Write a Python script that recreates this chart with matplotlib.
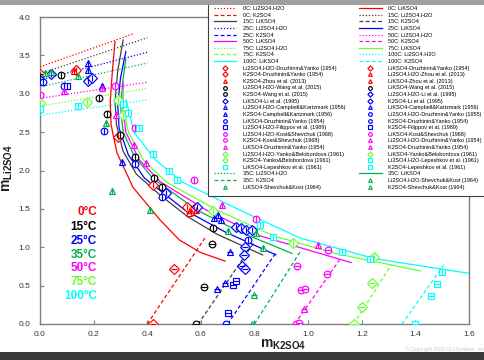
import numpy as np
import matplotlib
matplotlib.use('Agg')
import matplotlib.pyplot as plt
from matplotlib.patches import Rectangle

plt.rcParams['font.family'] = ['Liberation Sans', 'DejaVu Sans']
plt.rcParams['mathtext.fontset'] = 'custom'
plt.rcParams['mathtext.bf'] = 'Liberation Sans:bold'
plt.rcParams['mathtext.rm'] = 'Liberation Sans'

# ---------------- model curves ----------------
# Li2SO4.H2O saturation (dotted)
c0_h2o_x = [0.0, 0.347];  c0_h2o_y = [3.35, 3.78]
c15_h2o_x = [0.0, 0.40];  c15_h2o_y = [3.26, 3.73]
c25_h2o_x = [0.0, 0.40];  c25_h2o_y = [3.18, 3.54]
c35_h2o_x = [0.0, 0.40];  c35_h2o_y = [3.09, 3.40]
c50_h2o_x = [0.0, 0.40];  c50_h2o_y = [2.94, 3.15]
c75_h2o_x = [0.0, 0.40];  c75_h2o_y = [2.84, 3.07]
c100_h2o_x = [0.0, 0.40]; c100_h2o_y = [2.72, 2.92]

# LiKSO4 saturation (solid)
c0_lik_x = [0.28, 0.27, 0.262, 0.265, 0.287, 0.347, 0.448, 0.52, 0.60, 0.69]
c0_lik_y = [3.68, 3.30, 2.90, 2.60, 2.23, 1.78, 1.355, 1.094, 0.93, 0.82]
c15_lik_x = [0.31, 0.29, 0.28, 0.285, 0.31, 0.36, 0.448, 0.55, 0.66, 0.83]
c15_lik_y = [3.70, 3.30, 2.90, 2.60, 2.25, 1.95, 1.68, 1.40, 1.17, 0.90]
c25_lik_x = [0.32, 0.30, 0.29, 0.295, 0.33, 0.39, 0.54, 0.69, 0.88]
c25_lik_y = [3.55, 3.20, 2.85, 2.55, 2.20, 1.90, 1.485, 1.20, 0.90]
c35_lik_x = [0.32, 0.31, 0.30, 0.31, 0.35, 0.42, 0.585, 0.745, 0.94]
c35_lik_y = [3.45, 3.20, 2.85, 2.50, 2.20, 1.90, 1.485, 1.20, 0.92]
c50_lik_x = [0.31, 0.31, 0.32, 0.37, 0.45, 0.62, 0.81, 1.16]
c50_lik_y = [3.15, 2.80, 2.50, 2.14, 1.85, 1.485, 1.16, 0.80]
c75_lik_x = [0.31, 0.31, 0.33, 0.385, 0.47, 0.66, 0.87, 1.10, 1.42]
c75_lik_y = [3.05, 2.80, 2.50, 2.14, 1.85, 1.485, 1.15, 0.92, 0.69]
c100_lik_x = [0.32, 0.33, 0.35, 0.43, 0.53, 0.745, 0.97, 1.25, 1.60]
c100_lik_y = [2.92, 2.80, 2.50, 2.14, 1.85, 1.485, 1.12, 0.85, 0.66]

# K2SO4 saturation (dashed)
c0_k_x = [0.40, 0.615];  c0_k_y = [0.0, 1.12]
c15_k_x = [0.59, 0.80];  c15_k_y = [0.0, 1.07]
c25_k_x = [0.70, 0.88];  c25_k_y = [0.0, 0.93]
c35_k_x = [0.80, 0.97];  c35_k_y = [0.0, 0.94]
c50_k_x = [0.95, 1.12];  c50_k_y = [0.0, 0.85]
c75_k_x = [1.17, 1.31];  c75_k_y = [0.0, 0.77]
c100_k_x = [1.35, 1.51]; c100_k_y = [0.0, 0.79]

# ---------------- experimental data ----------------
p0_h2o_druz_x = [0.0, 0.135];  p0_h2o_druz_y = [3.26, 3.31]
p0_h2o_zhou_x = [0.125];       p0_h2o_zhou_y = [3.30]
p0_lik_druz_x = [0.29, 0.42, 0.55, 0.575]; p0_lik_druz_y = [2.44, 1.81, 1.52, 1.50]
p0_lik_zhou_x = [0.565, 0.58]; p0_lik_zhou_y = [1.46, 1.48]
p0_k_druz_x = [0.42, 0.50];    p0_k_druz_y = [0.0, 0.72]
p0_k_zhou_x = [0.555];         p0_k_zhou_y = [1.45]

p15_h2o_wang_x = [0.0, 0.08];  p15_h2o_wang_y = [3.22, 3.24]
p15_lik_wang_x = [0.22, 0.25, 0.30, 0.355, 0.425, 0.455, 0.645]
p15_lik_wang_y = [2.94, 2.74, 2.46, 2.18, 1.90, 1.79, 1.25]
p15_k_wang_x = [0.64, 0.61, 0.58]; p15_k_wang_y = [1.04, 0.48, 0.0]

p25_h2o_li_x = [0.0, 0.04];    p25_h2o_li_y = [3.18, 3.26]
p25_h2o_camp_x = [0.18, 0.18, 0.23]; p25_h2o_camp_y = [3.40, 3.31, 3.10]
p25_h2o_druz_x = [0.01, 0.09]; p25_h2o_druz_y = [3.15, 3.10]
p25_h2o_fil_x = [0.10];        p25_h2o_fil_y = [3.10]
p25_lik_li_x = [0.18, 0.195, 0.47, 0.585, 0.73, 0.75, 0.77, 0.79]
p25_lik_li_y = [3.17, 3.20, 1.71, 1.52, 1.27, 1.25, 1.23, 1.22]
p25_lik_camp_x = [0.305, 0.65, 0.665, 0.675]; p25_lik_camp_y = [2.11, 1.38, 1.42, 1.36]
p25_lik_druz_x = [0.24, 0.355, 0.455, 0.775]; p25_lik_druz_y = [2.51, 2.09, 1.66, 1.09]
p25_k_li_x = [0.765, 0.76, 0.755, 0.765];     p25_k_li_y = [1.00, 0.90, 0.75, 0.72]
p25_k_camp_x = [0.71, 0.69, 0.66];            p25_k_camp_y = [0.94, 0.53, 0.46]
p25_k_druz_x = [0.695];                       p25_k_druz_y = [0.0]
p25_k_fil_x = [0.72, 0.73, 0.70];             p25_k_fil_y = [0.51, 0.56, 0.14]

p35_h2o_x = [0.02, 0.04, 0.14];  p35_h2o_y = [3.27, 3.28, 3.23]
p35_lik_x = [0.245, 0.27, 0.41, 0.70, 0.805, 0.83]
p35_lik_y = [2.62, 1.73, 1.49, 1.21, 1.18, 0.99]
p35_k_x = [0.80, 0.79];          p35_k_y = [0.38, 0.0]

p50_h2o_kost_x = [0.0, 0.28];    p50_h2o_kost_y = [2.98, 3.10]
p50_h2o_druz_x = [0.09, 0.23];   p50_h2o_druz_y = [3.03, 3.08]
p50_lik_kost_x = [0.355, 0.575, 0.805]; p50_lik_kost_y = [2.55, 1.88, 1.37]
p50_lik_druz_x = [0.285, 0.35, 0.395, 0.68, 1.035]
p50_lik_druz_y = [2.72, 2.33, 2.10, 1.55, 1.03]
p50_k_kost_x = [1.075, 0.96, 1.07, 0.975, 0.99, 0.955, 0.965]
p50_k_kost_y = [0.96, 0.75, 0.65, 0.44, 0.45, 0.0, 0.01]
p50_k_druz_x = [0.985];          p50_k_druz_y = [0.20]

p75_h2o_x = [0.0, 0.175];        p75_h2o_y = [2.88, 2.89]
p75_lik_x = [0.29, 0.31, 0.645, 0.945, 1.245]; p75_lik_y = [2.92, 2.72, 1.47, 1.06, 0.87]
p75_k_x = [1.24, 1.20, 1.17];    p75_k_y = [0.53, 0.22, 0.0]

p100_h2o_x = [0.0, 0.14, 0.31];  p100_h2o_y = [2.80, 2.84, 2.87]
p100_lik_x = [0.33, 0.37, 0.42, 0.48, 0.51, 0.82, 0.87, 1.125, 1.23, 1.50]
p100_lik_y = [2.75, 2.56, 2.22, 1.99, 1.88, 1.29, 1.13, 0.94, 0.85, 0.68]
p100_k_x = [1.48, 1.46, 1.40];   p100_k_y = [0.52, 0.37, 0.0]

temp_labels = ['0\u00b0C', '15\u00b0C', '25\u00b0C', '35\u00b0C', '50\u00b0C', '75\u00b0C', '100\u00b0C']
x_ticks = [0.0, 0.2, 0.4, 0.6, 0.8, 1.0, 1.2, 1.4, 1.6]
y_ticks = [0.0, 0.5, 1.0, 1.5, 2.0, 2.5, 3.0, 3.5, 4.0]

# colors
C0, C15, C25, C35, C50, C75, C100 = '#ff0000', '#000000', '#0000ff', '#00b050', '#ff00ff', '#66ff33', '#00ffff'
L15 = '#404040'
txt_colors = [C0, C15, C25, C35, C50, C75, C100]

W, H = 485, 360
fig = plt.figure(figsize=(W / 100, H / 100), dpi=100)
ax = fig.add_axes([40 / W, 1 - 324 / H, (469 - 40) / W, (324 - 17) / H])
ax.set_xlim(0, 1.6)
ax.set_ylim(0, 4.0)

DOT = (0, (1, 1.5))
DASH = (0, (3, 2))


def curve(x, y, color, ls, label):
    h, = ax.plot(x, y, color=color, ls=ls, lw=0.9, label=label, zorder=3)
    return h


def pts(x, y, color, marker, label, bar='|'):
    h, = ax.plot(x, y, ls='none', marker=marker, ms=4.8, mfc='white', mec=color,
                 mew=0.85, color=color, label=label, zorder=4)
    ax.plot(x, y, ls='none', marker=bar, ms=3.8, mec=color, mew=0.85, zorder=5)
    return h


H_ = {}
H_['l0h'] = curve(c0_h2o_x, c0_h2o_y, C0, DOT, '0C: Li2SO4.H2O')
H_['l0l'] = curve(c0_lik_x, c0_lik_y, C0, '-', '0C: LiKSO4')
H_['l0k'] = curve(c0_k_x, c0_k_y, C0, DASH, '0C: K2SO4')
H_['l15h'] = curve(c15_h2o_x, c15_h2o_y, L15, DOT, '15C: Li2SO4.H2O')
H_['l15l'] = curve(c15_lik_x, c15_lik_y, L15, '-', '15C: LiKSO4')
H_['l15k'] = curve(c15_k_x, c15_k_y, L15, DASH, '15C: K2SO4')
H_['l25h'] = curve(c25_h2o_x, c25_h2o_y, C25, DOT, '25C: Li2SO4.H2O')
H_['l25l'] = curve(c25_lik_x, c25_lik_y, C25, '-', '25C: LiKSO4')
H_['l25k'] = curve(c25_k_x, c25_k_y, C25, DASH, '25C: K2SO4')
H_['l35h'] = curve(c35_h2o_x, c35_h2o_y, C35, DOT, '35C: Li2SO4.H2O')
H_['l35l'] = curve(c35_lik_x, c35_lik_y, C35, '-', '35C: LiKSO4')
H_['l35k'] = curve(c35_k_x, c35_k_y, C35, DASH, '35C: K2SO4')
H_['l50h'] = curve(c50_h2o_x, c50_h2o_y, C50, DOT, '50C: Li2SO4.H2O')
H_['l50l'] = curve(c50_lik_x, c50_lik_y, C50, '-', '50C: LiKSO4')
H_['l50k'] = curve(c50_k_x, c50_k_y, C50, DASH, '50C: K2SO4')
H_['l75h'] = curve(c75_h2o_x, c75_h2o_y, C75, DOT, '75C: Li2SO4.H2O')
H_['l75l'] = curve(c75_lik_x, c75_lik_y, C75, '-', '75C: LiKSO4')
H_['l75k'] = curve(c75_k_x, c75_k_y, C75, DASH, '75C: K2SO4')
H_['l100h'] = curve(c100_h2o_x, c100_h2o_y, C100, DOT, '100C: Li2SO4.H2O')
H_['l100l'] = curve(c100_lik_x, c100_lik_y, C100, '-', '100C: LiKSO4')
H_['l100k'] = curve(c100_k_x, c100_k_y, C100, DASH, '100C: K2SO4')

H_['p0hd'] = pts(p0_h2o_druz_x, p0_h2o_druz_y, C0, 'D', 'Li2SO4.H2O-Druzhinin&Yanko (1954)')
H_['p0hz'] = pts(p0_h2o_zhou_x, p0_h2o_zhou_y, C0, '^', 'Li2SO4.H2O-Zhou et al. (2013)')
H_['p0ld'] = pts(p0_lik_druz_x, p0_lik_druz_y, C0, 'D', 'LiKSO4-Druzhinin&Yanko (1954)')
H_['p0lz'] = pts(p0_lik_zhou_x, p0_lik_zhou_y, C0, '^', 'LiKSO4-Zhou et al. (2013)')
H_['p0kd'] = pts(p0_k_druz_x, p0_k_druz_y, C0, 'D', 'K2SO4-Druzhinin&Yanko (1954)', '_')
H_['p0kz'] = pts(p0_k_zhou_x, p0_k_zhou_y, C0, '^', 'K2SO4-Zhou et al. (2013)', '_')

H_['p15h'] = pts(p15_h2o_wang_x, p15_h2o_wang_y, C15, 'o', 'Li2SO4.H2O-Wang et al. (2015)')
H_['p15l'] = pts(p15_lik_wang_x, p15_lik_wang_y, C15, 'o', 'LiKSO4-Wang et al. (2015)')
H_['p15k'] = pts(p15_k_wang_x, p15_k_wang_y, C15, 'o', 'K2SO4-Wang et al. (2015)', '_')

H_['p25hl'] = pts(p25_h2o_li_x, p25_h2o_li_y, C25, 'D', 'Li2SO4.H2O-Li et al. (1995)')
H_['p25hc'] = pts(p25_h2o_camp_x, p25_h2o_camp_y, C25, '^', 'Li2SO4.H2O-Campbell&Kartzmark (1956)')
H_['p25hd'] = pts(p25_h2o_druz_x, p25_h2o_druz_y, C25, 'o', 'Li2SO4.H2O-Druzhinin&Yanko (1955)')
H_['p25hf'] = pts(p25_h2o_fil_x, p25_h2o_fil_y, C25, 's', 'Li2SO4.H2O-Filippov et al. (1989)')
H_['p25ll'] = pts(p25_lik_li_x, p25_lik_li_y, C25, 'D', 'LiKSO4-Li et al. (1995)')
H_['p25lc'] = pts(p25_lik_camp_x, p25_lik_camp_y, C25, '^', 'LiKSO4-Campbell&Kartzmark (1956)')
H_['p25ld'] = pts(p25_lik_druz_x, p25_lik_druz_y, C25, 'o', 'LiKSO4-Druzhinin&Yanko (1954)')
H_['p25kl'] = pts(p25_k_li_x, p25_k_li_y, C25, 'D', 'K2SO4-Li et al. (1995)', '_')
H_['p25kc'] = pts(p25_k_camp_x, p25_k_camp_y, C25, '^', 'K2SO4-Campbell&Kartzmark (1956)', '_')
H_['p25kd'] = pts(p25_k_druz_x, p25_k_druz_y, C25, 'o', 'K2SO4-Druzhinin&Yanko (1954)', '_')
H_['p25kf'] = pts(p25_k_fil_x, p25_k_fil_y, C25, 's', 'K2SO4-Filippov et al. (1989)', '_')

H_['p35h'] = pts(p35_h2o_x, p35_h2o_y, C35, '^', 'Li2SO4.H2O-Shevchuk&Kost (1964)')
H_['p35l'] = pts(p35_lik_x, p35_lik_y, C35, '^', 'LiKSO4-Shevchuk&Kost (1964)')
H_['p35k'] = pts(p35_k_x, p35_k_y, C35, '^', 'K2SO4-Shevchuk&Kost (1964)', '_')

H_['p50hk'] = pts(p50_h2o_kost_x, p50_h2o_kost_y, C50, 'o', 'Li2SO4.H2O-Kost&Shevchuk (1968)')
H_['p50hd'] = pts(p50_h2o_druz_x, p50_h2o_druz_y, C50, '^', 'Li2SO4.H2O-Druzhinin&Yanko (1954)')
H_['p50lk'] = pts(p50_lik_kost_x, p50_lik_kost_y, C50, 'o', 'LiKSO4-Kost&Shevchuk (1968)')
H_['p50ld'] = pts(p50_lik_druz_x, p50_lik_druz_y, C50, '^', 'LiKSO4-Druzhinin&Yanko (1954)')
H_['p50kk'] = pts(p50_k_kost_x, p50_k_kost_y, C50, 'o', 'K2SO4-Kost&Shevchuk (1968)', '_')
H_['p50kd'] = pts(p50_k_druz_x, p50_k_druz_y, C50, '^', 'K2SO4-Druzhinin&Yanko (1954)', '_')

H_['p75h'] = pts(p75_h2o_x, p75_h2o_y, C75, 'D', 'Li2SO4.H2O-Yanko&Belobordova (1961)')
H_['p75l'] = pts(p75_lik_x, p75_lik_y, C75, 'D', 'LiKSO4-Yanko&Belobordova (1961)')
H_['p75k'] = pts(p75_k_x, p75_k_y, C75, 'D', 'K2SO4-Yanko&Belobordova (1961)', '_')

H_['p100h'] = pts(p100_h2o_x, p100_h2o_y, C100, 's', 'Li2SO4.H2O-Lepeshkov et al. (1961)')
H_['p100l'] = pts(p100_lik_x, p100_lik_y, C100, 's', 'LiKSO4-Lepeshkov et al. (1961)')
H_['p100k'] = pts(p100_k_x, p100_k_y, C100, 's', 'K2SO4-Lepeshkov et al. (1961)', '_')

col1 = ['l0h', 'l0k', 'l15l', 'l25h', 'l25k', 'l50l', 'l75h', 'l75k', 'l100l',
        'p0hd', 'p0kd', 'p0kz', 'p15h', 'p15k', 'p25ll', 'p25hc', 'p25kc', 'p25ld',
        'p25hf', 'p50hk', 'p50kk', 'p50ld', 'p75h', 'p75k', 'p100l', 'l35h', 'l35k', 'p35l']
col2 = ['l0l', 'l15h', 'l15k', 'l25l', 'l50h', 'l50k', 'l75l', 'l100h', 'l100k',
        'p0ld', 'p0hz', 'p0lz', 'p15l', 'p25hl', 'p25kl', 'p25lc', 'p25hd', 'p25kd',
        'p25kf', 'p50lk', 'p50hd', 'p50kd', 'p75l', 'p100h', 'p100k', 'l35l', 'p35h', 'p35k']
handles = [H_[k] for k in col1 + col2]
leg = fig.legend(handles=handles, labels=[h.get_label() for h in handles], ncol=2,
                 loc='upper left', bbox_to_anchor=(208 / W, 1.0),
                 fontsize=4.0, frameon=True, fancybox=False, edgecolor='#404040',
                 framealpha=1, borderpad=1.1, labelspacing=0.29, handlelength=4.0,
                 handletextpad=1.2, columnspacing=2.5, markerscale=0.55, borderaxespad=0)
leg.get_frame().set_linewidth(0.8)
leg.set_zorder(10)

ax.set_xticks(x_ticks)
ax.set_yticks(y_ticks)
ax.set_xticklabels([f'{v:.1f}' for v in x_ticks])
ax.set_yticklabels([f'{v:.1f}' for v in y_ticks])
ax.tick_params(direction='in', length=3, width=0.8, color='#808080', labelsize=6,
               labelcolor='#333333')
ax.tick_params(axis='y', pad=7)
ax.tick_params(axis='x', pad=5)
for s in ax.spines.values():
    s.set_color('#808080')
    s.set_linewidth(1.0)

# temperature annotations
ty = [212, 227, 241, 255, 268, 282, 296]
for lab, c, yy in zip(temp_labels, txt_colors, ty):
    fig.text(97 / W, 1 - yy / H, lab, color=c, fontsize=8.5, fontweight='bold',
             ha='right', va='center')

fig.text(260 / W, 1 - 348 / H, r'$\mathbf{m}_{\mathbf{K2SO4}}$', fontsize=10,
         color='#222222', ha='left', va='baseline')
fig.text(15 / W, 1 - 168 / H, r'$\mathbf{m}_{\mathbf{Li2SO4}}$', fontsize=10,
         color='#222222', ha='center', va='bottom', rotation=90, rotation_mode='anchor')
fig.text(484 / W, 1 - 349 / H, '\u00a9 Copyright 2023 OLI Systems, Inc', fontsize=3.6,
         color='#c8c8c8', ha='right', va='center')

fig.patches.append(Rectangle((0, 1 - 5 / H), 1, 5 / H, transform=fig.transFigure,
                             facecolor='#a0a0a0', edgecolor='none', zorder=20))
fig.patches.append(Rectangle((0, 0), 1, 8 / H, transform=fig.transFigure,
                             facecolor='#3a3a3a', edgecolor='none', zorder=20))

fig.savefig('out.png', dpi=100)
